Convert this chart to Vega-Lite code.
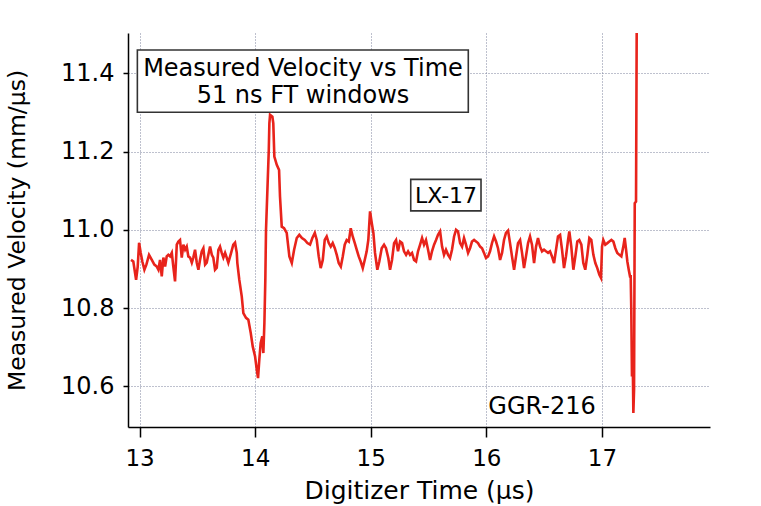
{
  "$schema": "https://vega.github.io/schema/vega-lite/v6.json",
  "width": 582,
  "height": 394,
  "autosize": "none",
  "padding": {"left": 128, "top": 33, "right": 51, "bottom": 79},
  "background": "white",
  "config": {
    "view": {"stroke": null},
    "axis": {
      "labelFont": "DejaVu Sans",
      "titleFont": "DejaVu Sans",
      "labelColor": "black",
      "titleColor": "black",
      "titleFontWeight": "normal",
      "domainColor": "black",
      "domainWidth": 1.5,
      "tickColor": "black",
      "tickWidth": 1.5,
      "gridColor": "#7c829c",
      "gridDash": [1, 2],
      "gridWidth": 1,
      "gridOpacity": 1
    }
  },
  "layer": [
    {
      "data": {
        "values": [
          {"t": 12.926, "v": 10.923}, {"t": 12.946, "v": 10.919}, {"t": 12.970, "v": 10.872}, {"t": 12.984, "v": 10.906},
          {"t": 12.996, "v": 10.967}, {"t": 13.010, "v": 10.941}, {"t": 13.024, "v": 10.919}, {"t": 13.042, "v": 10.898},
          {"t": 13.059, "v": 10.911}, {"t": 13.082, "v": 10.936}, {"t": 13.106, "v": 10.923}, {"t": 13.128, "v": 10.911},
          {"t": 13.149, "v": 10.906}, {"t": 13.163, "v": 10.898}, {"t": 13.177, "v": 10.923}, {"t": 13.192, "v": 10.881},
          {"t": 13.206, "v": 10.929}, {"t": 13.221, "v": 10.906}, {"t": 13.235, "v": 10.932}, {"t": 13.249, "v": 10.936},
          {"t": 13.264, "v": 10.932}, {"t": 13.279, "v": 10.941}, {"t": 13.292, "v": 10.906}, {"t": 13.307, "v": 10.868},
          {"t": 13.322, "v": 10.962}, {"t": 13.336, "v": 10.970}, {"t": 13.350, "v": 10.974}, {"t": 13.365, "v": 10.929},
          {"t": 13.379, "v": 10.962}, {"t": 13.394, "v": 10.949}, {"t": 13.408, "v": 10.957}, {"t": 13.422, "v": 10.932},
          {"t": 13.437, "v": 10.929}, {"t": 13.452, "v": 10.916}, {"t": 13.465, "v": 10.929}, {"t": 13.480, "v": 10.949},
          {"t": 13.495, "v": 10.916}, {"t": 13.509, "v": 10.898}, {"t": 13.523, "v": 10.923}, {"t": 13.538, "v": 10.945},
          {"t": 13.552, "v": 10.953}, {"t": 13.567, "v": 10.911}, {"t": 13.581, "v": 10.916}, {"t": 13.595, "v": 10.936},
          {"t": 13.610, "v": 10.957}, {"t": 13.625, "v": 10.936}, {"t": 13.638, "v": 10.929}, {"t": 13.653, "v": 10.898},
          {"t": 13.668, "v": 10.903}, {"t": 13.682, "v": 10.949}, {"t": 13.696, "v": 10.957}, {"t": 13.711, "v": 10.941},
          {"t": 13.725, "v": 10.929}, {"t": 13.740, "v": 10.941}, {"t": 13.754, "v": 10.929}, {"t": 13.768, "v": 10.916},
          {"t": 13.792, "v": 10.941}, {"t": 13.811, "v": 10.962}, {"t": 13.826, "v": 10.967}, {"t": 13.841, "v": 10.941},
          {"t": 13.846, "v": 10.915}, {"t": 13.863, "v": 10.872}, {"t": 13.884, "v": 10.830}, {"t": 13.898, "v": 10.787},
          {"t": 13.921, "v": 10.775}, {"t": 13.941, "v": 10.770}, {"t": 13.962, "v": 10.736}, {"t": 13.979, "v": 10.702},
          {"t": 13.999, "v": 10.677}, {"t": 14.014, "v": 10.643}, {"t": 14.025, "v": 10.621}, {"t": 14.036, "v": 10.668},
          {"t": 14.048, "v": 10.711}, {"t": 14.062, "v": 10.728}, {"t": 14.071, "v": 10.685}, {"t": 14.080, "v": 10.762},
          {"t": 14.088, "v": 10.872}, {"t": 14.094, "v": 11.000}, {"t": 14.106, "v": 11.102}, {"t": 14.118, "v": 11.204},
          {"t": 14.123, "v": 11.272}, {"t": 14.129, "v": 11.294}, {"t": 14.149, "v": 11.289}, {"t": 14.157, "v": 11.272},
          {"t": 14.166, "v": 11.187}, {"t": 14.187, "v": 11.166}, {"t": 14.207, "v": 11.153}, {"t": 14.215, "v": 11.085},
          {"t": 14.230, "v": 11.008}, {"t": 14.250, "v": 11.004}, {"t": 14.273, "v": 10.992}, {"t": 14.296, "v": 10.932},
          {"t": 14.317, "v": 10.915}, {"t": 14.337, "v": 10.949}, {"t": 14.360, "v": 10.979}, {"t": 14.382, "v": 10.987},
          {"t": 14.405, "v": 10.979}, {"t": 14.429, "v": 10.974}, {"t": 14.452, "v": 10.966}, {"t": 14.475, "v": 10.962},
          {"t": 14.495, "v": 10.979}, {"t": 14.516, "v": 10.992}, {"t": 14.533, "v": 10.974}, {"t": 14.550, "v": 10.932},
          {"t": 14.567, "v": 10.902}, {"t": 14.585, "v": 10.923}, {"t": 14.602, "v": 10.974}, {"t": 14.619, "v": 10.983},
          {"t": 14.637, "v": 10.966}, {"t": 14.654, "v": 10.957}, {"t": 14.671, "v": 10.966}, {"t": 14.689, "v": 10.953},
          {"t": 14.706, "v": 10.936}, {"t": 14.723, "v": 10.915}, {"t": 14.741, "v": 10.906}, {"t": 14.758, "v": 10.932},
          {"t": 14.775, "v": 10.962}, {"t": 14.792, "v": 10.974}, {"t": 14.810, "v": 10.970}, {"t": 14.827, "v": 11.004},
          {"t": 14.844, "v": 10.983}, {"t": 14.862, "v": 10.966}, {"t": 14.879, "v": 10.949}, {"t": 14.896, "v": 10.932},
          {"t": 14.913, "v": 10.919}, {"t": 14.931, "v": 10.902}, {"t": 14.948, "v": 10.923}, {"t": 14.965, "v": 10.945},
          {"t": 14.979, "v": 10.974}, {"t": 14.994, "v": 11.047}, {"t": 15.009, "v": 11.017}, {"t": 15.023, "v": 10.992},
          {"t": 15.037, "v": 10.941}, {"t": 15.057, "v": 10.898}, {"t": 15.074, "v": 10.919}, {"t": 15.095, "v": 10.953},
          {"t": 15.115, "v": 10.962}, {"t": 15.132, "v": 10.953}, {"t": 15.152, "v": 10.928}, {"t": 15.167, "v": 10.898},
          {"t": 15.184, "v": 10.923}, {"t": 15.202, "v": 10.966}, {"t": 15.219, "v": 10.974}, {"t": 15.236, "v": 10.945},
          {"t": 15.254, "v": 10.970}, {"t": 15.271, "v": 10.966}, {"t": 15.288, "v": 10.945}, {"t": 15.306, "v": 10.936},
          {"t": 15.323, "v": 10.945}, {"t": 15.340, "v": 10.936}, {"t": 15.357, "v": 10.941}, {"t": 15.375, "v": 10.923},
          {"t": 15.392, "v": 10.919}, {"t": 15.409, "v": 10.945}, {"t": 15.427, "v": 10.962}, {"t": 15.444, "v": 10.979},
          {"t": 15.461, "v": 10.962}, {"t": 15.478, "v": 10.974}, {"t": 15.496, "v": 10.949}, {"t": 15.513, "v": 10.923},
          {"t": 15.530, "v": 10.945}, {"t": 15.548, "v": 10.962}, {"t": 15.565, "v": 10.974}, {"t": 15.582, "v": 10.987},
          {"t": 15.600, "v": 10.996}, {"t": 15.617, "v": 10.957}, {"t": 15.634, "v": 10.936}, {"t": 15.651, "v": 10.949},
          {"t": 15.669, "v": 10.936}, {"t": 15.686, "v": 10.928}, {"t": 15.703, "v": 10.949}, {"t": 15.721, "v": 10.983},
          {"t": 15.738, "v": 11.000}, {"t": 15.755, "v": 10.996}, {"t": 15.773, "v": 10.966}, {"t": 15.790, "v": 10.957},
          {"t": 15.807, "v": 10.979}, {"t": 15.824, "v": 10.962}, {"t": 15.842, "v": 10.941}, {"t": 15.859, "v": 10.953},
          {"t": 15.876, "v": 10.970}, {"t": 15.894, "v": 10.974}, {"t": 15.911, "v": 10.970}, {"t": 15.928, "v": 10.966},
          {"t": 15.946, "v": 10.957}, {"t": 15.963, "v": 10.953}, {"t": 15.980, "v": 10.941}, {"t": 15.997, "v": 10.928},
          {"t": 16.015, "v": 10.932}, {"t": 16.032, "v": 10.945}, {"t": 16.049, "v": 10.966}, {"t": 16.067, "v": 10.983},
          {"t": 16.084, "v": 10.970}, {"t": 16.101, "v": 10.953}, {"t": 16.119, "v": 10.923}, {"t": 16.136, "v": 10.941},
          {"t": 16.153, "v": 10.974}, {"t": 16.170, "v": 10.992}, {"t": 16.188, "v": 10.998}, {"t": 16.205, "v": 10.966},
          {"t": 16.222, "v": 10.932}, {"t": 16.240, "v": 10.898}, {"t": 16.257, "v": 10.932}, {"t": 16.274, "v": 10.966},
          {"t": 16.292, "v": 10.974}, {"t": 16.309, "v": 10.941}, {"t": 16.326, "v": 10.902}, {"t": 16.343, "v": 10.932},
          {"t": 16.361, "v": 10.966}, {"t": 16.378, "v": 10.983}, {"t": 16.395, "v": 10.962}, {"t": 16.413, "v": 10.915},
          {"t": 16.430, "v": 10.957}, {"t": 16.447, "v": 10.979}, {"t": 16.465, "v": 10.957}, {"t": 16.482, "v": 10.945},
          {"t": 16.499, "v": 10.949}, {"t": 16.516, "v": 10.945}, {"t": 16.534, "v": 10.941}, {"t": 16.551, "v": 10.945},
          {"t": 16.568, "v": 10.932}, {"t": 16.586, "v": 10.915}, {"t": 16.603, "v": 10.949}, {"t": 16.620, "v": 10.983},
          {"t": 16.638, "v": 10.987}, {"t": 16.655, "v": 10.949}, {"t": 16.672, "v": 10.902}, {"t": 16.689, "v": 10.932},
          {"t": 16.707, "v": 10.974}, {"t": 16.718, "v": 10.996}, {"t": 16.735, "v": 10.957}, {"t": 16.753, "v": 10.898},
          {"t": 16.770, "v": 10.932}, {"t": 16.787, "v": 10.970}, {"t": 16.804, "v": 10.974}, {"t": 16.822, "v": 10.962},
          {"t": 16.839, "v": 10.915}, {"t": 16.856, "v": 10.898}, {"t": 16.874, "v": 10.936}, {"t": 16.891, "v": 10.979},
          {"t": 16.908, "v": 10.974}, {"t": 16.926, "v": 10.936}, {"t": 16.943, "v": 10.915}, {"t": 16.960, "v": 10.902},
          {"t": 16.978, "v": 10.885}, {"t": 16.992, "v": 10.877}, {"t": 17.001, "v": 10.957}, {"t": 17.012, "v": 10.974},
          {"t": 17.029, "v": 10.962}, {"t": 17.047, "v": 10.966}, {"t": 17.064, "v": 10.970}, {"t": 17.082, "v": 10.974},
          {"t": 17.099, "v": 10.970}, {"t": 17.116, "v": 10.953}, {"t": 17.133, "v": 10.941}, {"t": 17.151, "v": 10.936},
          {"t": 17.168, "v": 10.932}, {"t": 17.185, "v": 10.957}, {"t": 17.197, "v": 10.979}, {"t": 17.209, "v": 10.949},
          {"t": 17.220, "v": 10.919}, {"t": 17.232, "v": 10.898}, {"t": 17.243, "v": 10.881}, {"t": 17.249, "v": 10.881},
          {"t": 17.254, "v": 10.796}, {"t": 17.260, "v": 10.625}, {"t": 17.266, "v": 10.686}, {"t": 17.272, "v": 10.532},
          {"t": 17.278, "v": 10.592}, {"t": 17.284, "v": 11.068}, {"t": 17.295, "v": 11.072}, {"t": 17.301, "v": 11.52}
        ]
      },
      "mark": {"type": "line", "color": "#e8231b", "strokeWidth": 2.6, "clip": true},
      "encoding": {
        "x": {
          "field": "t", "type": "quantitative",
          "scale": {"domain": [12.9, 17.935], "nice": false, "zero": false},
          "axis": {
            "title": "Digitizer Time (μs)",
            "values": [13, 14, 15, 16, 17],
            "format": "d",
            "labelFontSize": 23,
            "titleFontSize": 25,
            "tickSize": 10,
            "labelPadding": 10,
            "titlePadding": 8,
            "grid": true
          }
        },
        "y": {
          "field": "v", "type": "quantitative",
          "scale": {"domain": [10.496, 11.503], "nice": false, "zero": false},
          "axis": {
            "title": "Measured Velocity (mm/μs)",
            "values": [10.6, 10.8, 11.0, 11.2, 11.4],
            "format": ".1f",
            "labelFontSize": 24,
            "titleFontSize": 23.5,
            "tickSize": 5,
            "labelPadding": 9,
            "titlePadding": 31,
            "grid": true
          }
        }
      }
    },
    {
      "data": {"values": [{"label": "box"}]},
      "mark": {"type": "rect", "fill": "white", "stroke": "#333333", "strokeWidth": 1.6},
      "encoding": {
        "x": {"datum": 12.981}, "x2": {"datum": 15.844},
        "y": {"datum": 11.4595}, "y2": {"datum": 11.3005}
      }
    },
    {
      "data": {"values": [{"label": "Measured Velocity vs Time"}]},
      "mark": {"type": "text", "font": "DejaVu Sans", "fontSize": 24, "color": "black", "align": "center", "baseline": "alphabetic"},
      "encoding": {"x": {"datum": 14.414}, "y": {"datum": 11.394}, "text": {"field": "label"}}
    },
    {
      "data": {"values": [{"label": "51 ns FT windows"}]},
      "mark": {"type": "text", "font": "DejaVu Sans", "fontSize": 24, "color": "black", "align": "center", "baseline": "alphabetic"},
      "encoding": {"x": {"datum": 14.414}, "y": {"datum": 11.324}, "text": {"field": "label"}}
    },
    {
      "data": {"values": [{"label": "box"}]},
      "mark": {"type": "rect", "fill": "white", "stroke": "#333333", "strokeWidth": 1.6},
      "encoding": {
        "x": {"datum": 15.346}, "x2": {"datum": 15.954},
        "y": {"datum": 11.129}, "y2": {"datum": 11.0485}
      }
    },
    {
      "data": {"values": [{"label": "LX-17"}]},
      "mark": {"type": "text", "font": "DejaVu Sans", "fontSize": 22, "color": "black", "align": "center", "baseline": "alphabetic"},
      "encoding": {"x": {"datum": 15.651}, "y": {"datum": 11.068}, "text": {"field": "label"}}
    },
    {
      "data": {"values": [{"label": "GGR-216"}]},
      "mark": {"type": "text", "font": "DejaVu Sans", "fontSize": 24, "color": "black", "align": "center", "baseline": "alphabetic"},
      "encoding": {"x": {"datum": 16.482}, "y": {"datum": 10.530}, "text": {"field": "label"}}
    }
  ]
}
